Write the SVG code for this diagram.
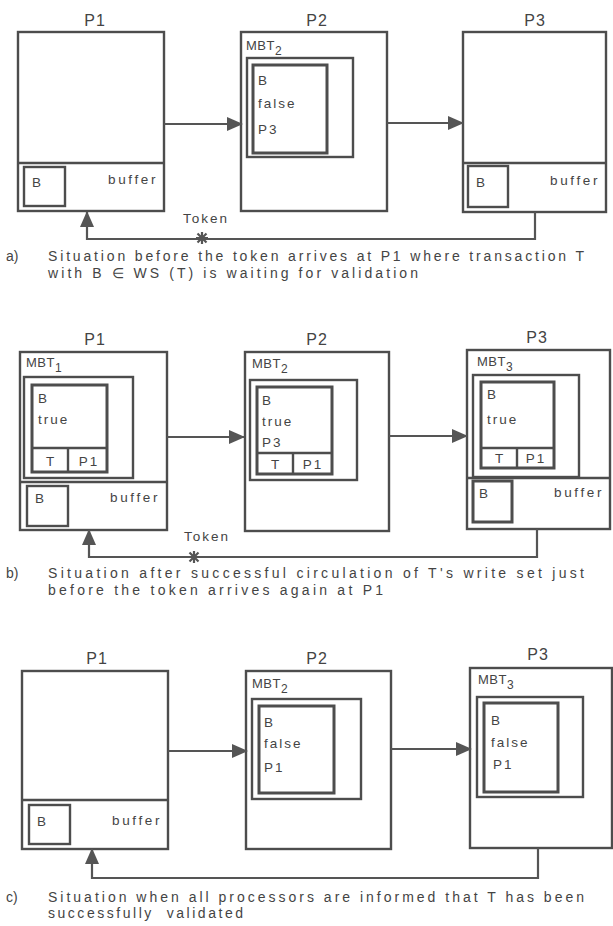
<svg xmlns="http://www.w3.org/2000/svg" width="613" height="926" viewBox="0 0 613 926">
<style>
.bx{fill:none;stroke:#4d4d4d;stroke-width:2.4}
.in{fill:none;stroke:#4d4d4d;stroke-width:3}
.ln{fill:none;stroke:#555;stroke-width:2.2}
text{font-family:"Liberation Sans",Arial,sans-serif;fill:#444}
.pl{font-size:16px;letter-spacing:1px;text-anchor:middle}
.t{font-size:13.5px;letter-spacing:2px}
.m{font-size:13px;letter-spacing:0.5px}
.s{font-size:12px}
.bf{font-size:13.5px;letter-spacing:2.6px;text-anchor:end}
.cap{font-size:14px}
.c{text-anchor:middle}
.star{stroke:#555;stroke-width:2.2}
</style>
<defs>
<marker id="ah" markerUnits="userSpaceOnUse" markerWidth="16" markerHeight="14" refX="15" refY="7" orient="auto">
<path d="M0,0 L16,7 L0,14 z" fill="#555"/>
</marker>
<g id="star"><path class="star" d="M-6,0 H6 M0,-6 V6 M-4.5,-4.5 L4.5,4.5 M-4.5,4.5 L4.5,-4.5"/></g>
</defs>
<rect width="613" height="926" fill="#fff"/>

<!-- ===== a ===== -->
<g id="a-p1">
<text class="pl" x="95" y="26">P1</text>
<rect class="bx" x="18" y="32" width="146" height="179"/>
<line class="bx" x1="18" y1="163" x2="164" y2="163"/>
<rect class="bx" x="24" y="167" width="41" height="39"/>
<text class="t" x="32" y="187">B</text>
<text class="bf" x="158" y="184">buffer</text>
</g>
<g id="a-p2">
<text class="pl" x="317" y="26">P2</text>
<rect class="bx" x="241" y="32" width="146" height="179"/>
<text class="m" x="246" y="50">MBT<tspan class="s" dy="5">2</tspan></text>
<rect class="bx" x="247" y="58" width="106" height="99"/>
<rect class="in" x="253" y="65" width="74" height="88"/>
<text class="t" x="258" y="85">B</text>
<text class="t" x="258" y="108">false</text>
<text class="t" x="258" y="134">P3</text>
</g>
<g id="a-p3">
<text class="pl" x="535" y="26">P3</text>
<rect class="bx" x="463" y="32" width="143" height="180"/>
<line class="bx" x1="463" y1="163" x2="606" y2="163"/>
<rect class="bx" x="468" y="166" width="40" height="41"/>
<text class="t" x="476" y="187">B</text>
<text class="bf" x="600" y="185">buffer</text>
</g>
<g id="a-conn">
<line class="ln" x1="164" y1="124" x2="242" y2="124" marker-end="url(#ah)"/>
<line class="ln" x1="387" y1="123" x2="463" y2="123" marker-end="url(#ah)"/>
<path class="ln" d="M535,212 V239 H87 V212" marker-end="url(#ah)"/>
<use href="#star" x="202" y="238"/>
<text class="t c" x="206" y="223">Token</text>
</g>
<g id="a-caption">
<text class="cap" x="6" y="261">a)</text>
<text class="cap" x="48" y="261" textLength="536" lengthAdjust="spacing">Situation before the token arrives at P1 where transaction T</text>
<text class="cap" x="48" y="278" textLength="370" lengthAdjust="spacing">with B ∈ WS (T) is waiting for validation</text>
</g>

<!-- ===== b ===== -->
<g id="b-p1">
<text class="pl" x="95" y="345">P1</text>
<rect class="bx" x="20" y="352" width="147" height="178"/>
<line class="bx" x1="20" y1="482" x2="167" y2="482"/>
<text class="m" x="26" y="367">MBT<tspan class="s" dy="5">1</tspan></text>
<rect class="bx" x="24" y="377" width="109" height="101"/>
<rect class="in" x="32" y="385" width="75" height="87"/>
<line class="bx" x1="32" y1="448" x2="107" y2="448"/>
<line class="bx" x1="68" y1="448" x2="68" y2="472"/>
<text class="t" x="38" y="403">B</text>
<text class="t" x="38" y="424">true</text>
<text class="t c" x="51" y="466">T</text>
<text class="t c" x="89" y="466">P1</text>
<rect class="bx" x="27" y="486" width="41" height="40"/>
<text class="t" x="35" y="503">B</text>
<text class="bf" x="160" y="502">buffer</text>
</g>
<g id="b-p2">
<text class="pl" x="317" y="345">P2</text>
<rect class="bx" x="245" y="352" width="144" height="179"/>
<text class="m" x="252" y="368">MBT<tspan class="s" dy="5">2</tspan></text>
<rect class="bx" x="250" y="380" width="107" height="100"/>
<rect class="in" x="257" y="387" width="75" height="87"/>
<line class="bx" x1="257" y1="453" x2="332" y2="453"/>
<line class="bx" x1="293" y1="453" x2="293" y2="474"/>
<text class="t" x="262" y="405">B</text>
<text class="t" x="262" y="426">true</text>
<text class="t" x="262" y="447">P3</text>
<text class="t c" x="276" y="469">T</text>
<text class="t c" x="313" y="469">P1</text>
</g>
<g id="b-p3">
<text class="pl" x="537" y="343">P3</text>
<rect class="bx" x="467" y="350" width="143" height="179"/>
<line class="bx" x1="467" y1="478" x2="610" y2="478"/>
<text class="m" x="477" y="366">MBT<tspan class="s" dy="5">3</tspan></text>
<rect class="bx" x="473" y="375" width="106" height="102"/>
<rect class="in" x="481" y="382" width="73" height="86"/>
<line class="bx" x1="481" y1="448" x2="554" y2="448"/>
<line class="bx" x1="517" y1="448" x2="517" y2="468"/>
<text class="t" x="487" y="399">B</text>
<text class="t" x="487" y="424">true</text>
<text class="t c" x="500" y="463">T</text>
<text class="t c" x="536" y="463">P1</text>
<rect class="in" x="473" y="481" width="39" height="41"/>
<text class="t" x="479" y="498">B</text>
<text class="bf" x="604" y="497">buffer</text>
</g>
<g id="b-conn">
<line class="ln" x1="167" y1="437" x2="244" y2="437" marker-end="url(#ah)"/>
<line class="ln" x1="389" y1="436" x2="467" y2="436" marker-end="url(#ah)"/>
<path class="ln" d="M537,529 V557 H89 V530" marker-end="url(#ah)"/>
<use href="#star" x="194" y="557"/>
<text class="t c" x="207" y="541">Token</text>
</g>
<g id="b-caption">
<text class="cap" x="6" y="578">b)</text>
<text class="cap" x="48" y="578" textLength="536" lengthAdjust="spacing">Situation after successful circulation of T's write set just</text>
<text class="cap" x="48" y="595" textLength="335" lengthAdjust="spacing">before the token arrives again at P1</text>
</g>

<!-- ===== c ===== -->
<g id="c-p1">
<text class="pl" x="97" y="664">P1</text>
<rect class="bx" x="22" y="671" width="146" height="178"/>
<line class="bx" x1="22" y1="800" x2="168" y2="800"/>
<rect class="bx" x="29" y="805" width="41" height="39"/>
<text class="t" x="37" y="826">B</text>
<text class="bf" x="162" y="825">buffer</text>
</g>
<g id="c-p2">
<text class="pl" x="317" y="664">P2</text>
<rect class="bx" x="246" y="671" width="145" height="178"/>
<text class="m" x="252" y="688">MBT<tspan class="s" dy="5">2</tspan></text>
<rect class="bx" x="252" y="699" width="109" height="100"/>
<rect class="in" x="259" y="706" width="75" height="87"/>
<text class="t" x="264" y="727">B</text>
<text class="t" x="264" y="748">false</text>
<text class="t" x="264" y="772">P1</text>
</g>
<g id="c-p3">
<text class="pl" x="538" y="660">P3</text>
<rect class="bx" x="470" y="668" width="142" height="180"/>
<text class="m" x="478" y="684">MBT<tspan class="s" dy="5">3</tspan></text>
<rect class="bx" x="477" y="697" width="106" height="100"/>
<rect class="in" x="484" y="703" width="74" height="89"/>
<text class="t" x="491" y="725">B</text>
<text class="t" x="491" y="747">false</text>
<text class="t" x="493" y="769">P1</text>
</g>
<g id="c-conn">
<line class="ln" x1="168" y1="751" x2="247" y2="751" marker-end="url(#ah)"/>
<line class="ln" x1="391" y1="749" x2="471" y2="749" marker-end="url(#ah)"/>
<path class="ln" d="M538,848 V878 H92 V849" marker-end="url(#ah)"/>
</g>
<g id="c-caption">
<text class="cap" x="6" y="902">c)</text>
<text class="cap" x="48" y="902" textLength="536" lengthAdjust="spacing">Situation when all processors are informed that T has been</text>
<text class="cap" x="48" y="918" textLength="195" lengthAdjust="spacing" xml:space="preserve">successfully  validated</text>
</g>
</svg>
